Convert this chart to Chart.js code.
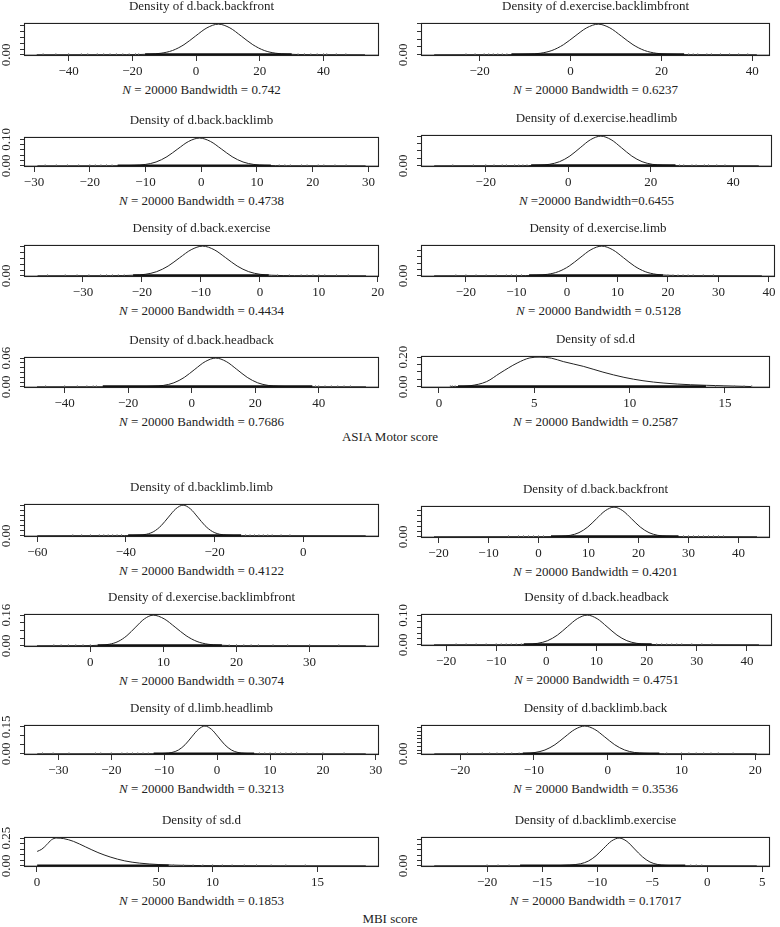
<!DOCTYPE html>
<html>
<head>
<meta charset="utf-8">
<script src="https://cdn.jsdelivr.net/npm/chart.js@4.4.1/dist/chart.umd.min.js"></script>
<style>
  body { margin: 0; background: #fff; }
  #page { position: relative; width: 780px; height: 927px; font-family: "Liberation Serif", serif; color: #222; }
  #page canvas { position: absolute; }
  .sub { position: absolute; text-align: center; font-size: 13px; line-height: 16px; white-space: nowrap; }
  .cap { position: absolute; left: 0; width: 780px; text-align: center; font-size: 13px; line-height: 16px; }
</style>
</head>
<body>
<div id="page">
  <div class="cap" style="top:429px">ASIA Motor score</div>
  <div class="cap" style="top:911px">MBI score</div>
</div>
<script>
// panel order: left/right, row by row
const titles = [
  'Density of d.back.backfront', 'Density of d.exercise.backlimbfront',
  'Density of d.back.backlimb', 'Density of d.exercise.headlimb',
  'Density of d.back.exercise', 'Density of d.exercise.limb',
  'Density of d.back.headback', 'Density of sd.d',
  'Density of d.backlimb.limb', 'Density of d.back.backfront',
  'Density of d.exercise.backlimbfront', 'Density of d.back.headback',
  'Density of d.limb.headlimb', 'Density of d.backlimb.back',
  'Density of sd.d', 'Density of d.backlimb.exercise'
];
const subtitles = [
  ' = 20000 Bandwidth = 0.742', ' = 20000 Bandwidth = 0.6237',
  ' = 20000 Bandwidth = 0.4738', ' =20000 Bandwidth=0.6455',
  ' = 20000 Bandwidth = 0.4434', ' = 20000 Bandwidth = 0.5128',
  ' = 20000 Bandwidth = 0.7686', ' = 20000 Bandwidth = 0.2587',
  ' = 20000 Bandwidth = 0.4122', ' = 20000 Bandwidth = 0.4201',
  ' = 20000 Bandwidth = 0.3074', ' = 20000 Bandwidth = 0.4751',
  ' = 20000 Bandwidth = 0.3213', ' = 20000 Bandwidth = 0.3536',
  ' = 20000 Bandwidth = 0.1853', ' = 20000 Bandwidth = 0.17017'
];

const xLimits = [
  [-54, 57.4], [-32.9, 43.9], [-31.8, 31.9], [-35.7, 49.4],
  [-40, 20.2], [-28.9, 41.2], [-52.8, 59], [-0.94, 17.36],
  [-63, 17.1], [-23.5, 46.3], [-9.08, 39.5], [-25, 45],
  [-36.5, 30.6], [-25.3, 22], [-5.3, 140.2], [-26, 5.7]
];
const xTicks = [
  [-40, -20, 0, 20, 40], [-20, 0, 20, 40], [-30, -20, -10, 0, 10, 20, 30], [-20, 0, 20, 40],
  [-30, -20, -10, 0, 10, 20], [-20, -10, 0, 10, 20, 30, 40], [-40, -20, 0, 20, 40], [0, 5, 10, 15],
  [-60, -40, -20, 0], [-20, -10, 0, 10, 20, 30, 40], [0, 10, 20, 30], [-20, -10, 0, 10, 20, 30, 40],
  [-30, -20, -10, 0, 10, 20, 30], [-20, -10, 0, 10, 20], [0, 50, 72, 115], [-20, -15, -10, -5, 0, 5]
];
// printed tick text where it differs from the value
const xTickText = [
  null, null, null, null, null, null, null, null,
  null, null, null, null, null, null, ['0', '50', '10', '15'], null
];

const yLimits = [
  [-0.0021, 0.0551], [-0.0031, 0.0811], [-0.0042, 0.1092], [-0.0032, 0.0832],
  [-0.0041, 0.1071], [-0.0037, 0.0967], [-0.0024, 0.0624], [-0.008, 0.208],
  [-0.0048, 0.1248], [-0.0046, 0.1186], [-0.0064, 0.1664], [-0.004, 0.105],
  [-0.0062, 0.1612], [-0.0059, 0.1539], [-0.01, 0.26], [-0.0104, 0.2704]
];
const yTicks = [
  [0, 0.01, 0.02, 0.03, 0.04, 0.05], [0, 0.02, 0.04, 0.06, 0.08],
  [0, 0.02, 0.04, 0.06, 0.08, 0.10], [0, 0.02, 0.04, 0.06, 0.08],
  [0, 0.02, 0.04, 0.06, 0.08, 0.10], [0, 0.02, 0.04, 0.06, 0.08],
  [0, 0.01, 0.02, 0.03, 0.04, 0.05, 0.06], [0, 0.05, 0.10, 0.15, 0.20],
  [0, 0.02, 0.04, 0.06, 0.08, 0.10, 0.12], [0, 0.02, 0.04, 0.06, 0.08, 0.10],
  [0, 0.04, 0.08, 0.12, 0.16], [0, 0.02, 0.04, 0.06, 0.08, 0.10],
  [0, 0.05, 0.10, 0.15], [0, 0.02, 0.04, 0.06, 0.08, 0.10, 0.12, 0.14],
  [0, 0.05, 0.10, 0.15, 0.20, 0.25], [0, 0.05, 0.10, 0.15, 0.20, 0.25]
];
const yLabels = [
  [0], [0], [0, 0.10], [0], [0], [0], [0, 0.06], [0, 0.20],
  [0], [0], [0, 0.16], [0, 0.10], [0, 0.15], [0], [0, 0.25], [0]
];

// density curves
const curveX = [
  [-50, -21.8, -14.6, -11, -7.4, -3.8, -0.2, 3.4, 7, 10.6, 14.2, 17.8, 21.4, 25, 28.6, 35.8, 53],
  [-30, -14.3, -9.2, -6.65, -4.1, -1.55, 1, 3.55, 6.1, 8.65, 11.2, 13.75, 16.3, 18.85, 21.4, 26.5, 41],
  [-29.4, -15.9, -12, -10.05, -8.1, -6.15, -4.2, -2.25, -0.3, 1.65, 3.6, 5.55, 7.5, 9.45, 11.4, 15.3, 29.5],
  [-32.5, -12.1, -7.1, -4.6, -2.1, 0.4, 2.9, 5.4, 7.9, 10.4, 12.9, 15.4, 17.9, 20.4, 22.9, 27.9, 46.2],
  [-37.7, -25.3, -21.4, -19.45, -17.5, -15.55, -13.6, -11.65, -9.7, -7.75, -5.8, -3.85, -1.9, 0.05, 2, 5.9, 18],
  [-26.3, -10.3, -6, -3.85, -1.7, 0.45, 2.6, 4.75, 6.9, 9.05, 11.2, 13.35, 15.5, 17.65, 19.8, 24.1, 38.6],
  [-48.7, -18.8, -12.2, -8.9, -5.6, -2.3, 1, 4.3, 7.6, 10.9, 14.2, 17.5, 20.8, 24.1, 27.4, 34, 54.9],
  [0.58, 1.0, 1.63, 2.5, 3.2, 4.1, 4.77, 5.3, 5.9, 6.52, 7.57, 8.6, 9.7, 10.7, 11.8, 13.2, 14.9, 16.36],
  [-60, -40.3, -37, -35.35, -33.7, -32.05, -30.4, -28.75, -27.1, -25.45, -23.8, -22.15, -20.5, -18.85, -17.2, -13.9, 14.1],
  [-20.9, 1.1, 4.6, 6.35, 8.1, 9.85, 11.6, 13.35, 15.1, 16.85, 18.6, 20.35, 22.1, 23.85, 25.6, 29.1, 43.7],
  [-7.3, -1, 1.4, 2.6, 3.8, 5, 6.2, 7.4, 8.6, 10.1, 11.6, 13.1, 14.6, 16.1, 17.6, 20.6, 37.7],
  [-22.4, -7.65, -3.7, -1.725, 0.25, 2.225, 4.2, 6.175, 8.15, 10.125, 12.1, 14.075, 16.05, 18.025, 20, 23.95, 42.4],
  [-34, -12.3, -9.8, -8.55, -7.3, -6.05, -4.8, -3.55, -2.3, -1.05, 0.2, 1.45, 2.7, 3.95, 5.2, 7.7, 28.1],
  [-23.5, -13.9, -11.2, -9.85, -8.5, -7.15, -5.8, -4.45, -3.1, -1.75, -0.4, 0.95, 2.3, 3.65, 5, 7.7, 20.2],
  [0.1, 2, 4, 6, 8, 11, 15, 20, 25, 30, 36, 42, 50, 60, 75, 100, 134.8],
  [-24.8, -14.5, -12.5, -11.5, -10.8, -10.1, -9.4, -8.7, -8.0, -7.3, -6.6, -5.9, -5.2, -4.5, -3.8, -2.3, 4.5]
];
const curveY = [
  [0, 0.0002, 0.0011, 0.0027, 0.0074, 0.0175, 0.0323, 0.0466, 0.053, 0.0466, 0.0323, 0.0175, 0.0074, 0.0027, 0.0011, 0.0002, 0],
  [0, 0.0003, 0.0016, 0.0039, 0.0109, 0.0257, 0.0476, 0.0686, 0.078, 0.0686, 0.0476, 0.0257, 0.0109, 0.0039, 0.0016, 0.0003, 0],
  [0, 0.0004, 0.0021, 0.0053, 0.0147, 0.0347, 0.0641, 0.0924, 0.105, 0.0924, 0.0641, 0.0347, 0.0147, 0.0053, 0.0021, 0.0004, 0],
  [0, 0.0003, 0.0016, 0.004, 0.0112, 0.0264, 0.0488, 0.0704, 0.08, 0.0704, 0.0488, 0.0264, 0.0112, 0.004, 0.0016, 0.0003, 0],
  [0, 0.0004, 0.0021, 0.0052, 0.0144, 0.034, 0.0628, 0.0906, 0.103, 0.0906, 0.0628, 0.034, 0.0144, 0.0052, 0.0021, 0.0004, 0],
  [0, 0.0004, 0.0019, 0.0047, 0.013, 0.0307, 0.0567, 0.0818, 0.093, 0.0818, 0.0567, 0.0307, 0.013, 0.0047, 0.0019, 0.0004, 0],
  [0, 0.0002, 0.0012, 0.003, 0.0084, 0.0198, 0.0366, 0.0528, 0.06, 0.0528, 0.0366, 0.0198, 0.0084, 0.003, 0.0012, 0.0002, 0],
  [0.001, 0.002, 0.007, 0.035, 0.092, 0.16, 0.195, 0.2, 0.193, 0.17, 0.138, 0.099, 0.064, 0.041, 0.025, 0.014, 0.007, 0.002],
  [0, 0.0005, 0.0024, 0.006, 0.0168, 0.0396, 0.0732, 0.1056, 0.12, 0.1056, 0.0732, 0.0396, 0.0168, 0.006, 0.0024, 0.0005, 0],
  [0, 0.0005, 0.0023, 0.0057, 0.016, 0.0376, 0.0695, 0.1003, 0.114, 0.1003, 0.0695, 0.0376, 0.016, 0.0057, 0.0023, 0.0005, 0],
  [0, 0.0006, 0.0032, 0.008, 0.0224, 0.0528, 0.0976, 0.1408, 0.16, 0.1408, 0.0976, 0.0528, 0.0224, 0.008, 0.0032, 0.0006, 0],
  [0, 0.0004, 0.002, 0.0051, 0.0141, 0.0333, 0.0616, 0.0889, 0.101, 0.0889, 0.0616, 0.0333, 0.0141, 0.0051, 0.002, 0.0004, 0],
  [0, 0.0006, 0.0031, 0.0078, 0.0217, 0.0512, 0.0946, 0.1364, 0.155, 0.1364, 0.0946, 0.0512, 0.0217, 0.0078, 0.0031, 0.0006, 0],
  [0, 0.0006, 0.003, 0.0074, 0.0207, 0.0488, 0.0903, 0.1302, 0.148, 0.1302, 0.0903, 0.0488, 0.0207, 0.0074, 0.003, 0.0006, 0],
  [0.13, 0.15, 0.19, 0.235, 0.25, 0.245, 0.22, 0.17, 0.12, 0.08, 0.045, 0.025, 0.012, 0.005, 0.002, 0.0005, 0],
  [0, 0.001, 0.008, 0.02, 0.045, 0.095, 0.165, 0.232, 0.26, 0.229, 0.158, 0.086, 0.036, 0.013, 0.005, 0.001, 0]
];

// rug: dense stretch drawn solid, sparse tail marks listed
const rugCore = [
  [-16, 30], [-13, 25], [-15, 12.5], [-9, 26], [-21.5, 1.5], [-7.5, 19], [-28, 38], [1.0, 14],
  [-39.5, -14], [2.5, 28], [1, 18], [-4.5, 21], [-12, 7], [-11.5, 7], [0.1, 54], [-17, -2]
];
const rugTail = [
  [-48, -44, -40, -36, -34, -31, -29, -27, -25, -23, -21, -19, -18, 32, 34, 36, 38, 40, 41, 44, 47],
  [-23, -21, -19, -18, -17, -16, -15, -14, 26, 27, 28, 30, 31, 33, 35, 37, 39],
  [-28, -26, -24, -22, -20, -19, -18, -17, -16, 14, 15, 16, 18, 19, 21, 22, 24, 26],
  [-28, -23, -20, -18, -16, -15, -13, -12, -11, -10, 27, 28, 30, 31, 33, 34, 36, 38],
  [-36, -33, -31, -29, -27, -26, -25, -24, -23, 3, 5, 7, 8, 9, 10, 11, 13, 15],
  [-22, -20, -18, -16, -14, -12, -11, -10, -9, 20, 21, 22, 23, 24, 25, 27, 29],
  [-46, -40, -36, -33, -31, -30, 39, 40, 42, 44, 46, 48, 50],
  [0.6, 0.7, 0.85, 14.5, 15, 15.5, 16, 16.4],
  [-52, -50, -48, -46, -45, -44, -43, -42, -41, -13, -12, -11, -10, -9, -8, -7, -5, -3],
  [-6, -4, -3, -2, -1, 0, 1, 29, 30, 31, 32, 33, 34, 35, 36, 37],
  [-5, -4, -3, -2, -1, 0, 19, 20, 21, 22, 23, 25, 27, 30, 34],
  [-18, -16, -14, -12, -10, -9, -8, -7, -6, -5, 22, 23, 24, 25, 26, 27, 29, 31, 33],
  [-33, -31, -28, -23, -22, -20, -18, -17, -16, -15, -14, -13, 8, 9, 10, 11, 12, 13, 14, 15, 17, 20, 24],
  [-19, -17, -16, -15, -14, -13, -12, 8, 10, 11, 12, 13, 14, 15, 17],
  [56, 60, 64, 68, 72, 76, 80, 85, 90, 96, 102, 110],
  [-20, -19, -18, -1.5, -1, -0.5]
];

// plot boxes on the page: left, top, right, bottom
const boxes = [
  [24, 23, 379, 56], [421, 23, 770, 56],
  [24, 137, 379, 167], [421, 135, 772, 167],
  [24, 245, 379, 277], [421, 245, 776, 277],
  [24, 357, 379, 388], [421, 356, 770, 388],
  [24, 504, 379, 537], [421, 506, 770, 538],
  [24, 614, 379, 647], [421, 614, 772, 646],
  [24, 725, 379, 755], [421, 725, 770, 755],
  [24, 837, 379, 867], [421, 837, 770, 867]
];

const FONT = { family: 'Liberation Serif', size: 13, lineHeight: 1.2 };
const INK = '#222';
Chart.defaults.font.family = 'Liberation Serif';
Chart.defaults.color = INK;

const framePlugin = {
  id: 'frame',
  afterDatasetsDraw(chart) {
    const a = chart.chartArea;
    const g = chart.ctx;
    g.save();
    g.strokeStyle = INK;
    g.lineWidth = 1.1;
    g.strokeRect(a.left + 0.5, a.top + 0.5, a.right - a.left - 1, a.bottom - a.top - 1);
    g.restore();
  }
};

const fmtX = v => (v < 0 ? '\u2212' + Math.abs(v) : String(v));

const page = document.getElementById('page');

titles.forEach((title, i) => {
  const [bl, bt, br, bb] = boxes[i];
  const colX = bl < 390 ? 0 : 390;
  const topPad = 26, bottomPad = 24;

  const canvas = document.createElement('canvas');
  canvas.width = 390;
  canvas.height = topPad + (bb - bt) + bottomPad;
  canvas.style.left = colX + 'px';
  canvas.style.top = (bt - topPad) + 'px';
  canvas.style.width = '390px';
  canvas.style.height = canvas.height + 'px';
  page.appendChild(canvas);

  const sub = document.createElement('div');
  sub.className = 'sub';
  sub.style.left = bl + 'px';
  sub.style.width = (br - bl) + 'px';
  sub.style.top = (bb + 26) + 'px';
  sub.innerHTML = '<i>N</i>' + subtitles[i];
  page.appendChild(sub);

  const curve = curveX[i].map((x, k) => ({ x: x, y: curveY[i][k] }));
  const core = rugCore[i].map(x => ({ x: x, y: 0 }));
  const tails = rugTail[i].map(x => ({ x: x, y: 0 }));

  new Chart(canvas.getContext('2d'), {
    type: 'line',
    data: {
      datasets: [
        {
          data: tails, showLine: false, pointStyle: 'line', rotation: 90,
          pointRadius: 1.5, pointBorderColor: '#777', pointBorderWidth: 1
        },
        {
          data: core, borderColor: '#111', borderWidth: 3, pointRadius: 0
        },
        {
          data: curve, borderColor: INK, borderWidth: 1, pointRadius: 0,
          cubicInterpolationMode: 'monotone'
        }
      ]
    },
    options: {
      responsive: false,
      animation: false,
      devicePixelRatio: 1,
      layout: { padding: { left: 0, top: 0, bottom: 0, right: 390 - (br - colX) } },
      plugins: {
        legend: { display: false },
        tooltip: { enabled: false },
        title: {
          display: true, text: title, fullSize: false, color: INK,
          font: { family: FONT.family, size: FONT.size, lineHeight: 1.15, weight: 'normal' },
          padding: { top: 2.5, bottom: 8.5 }
        }
      },
      scales: {
        x: {
          type: 'linear', min: xLimits[i][0], max: xLimits[i][1],
          afterBuildTicks: s => { s.ticks = xTicks[i].map(v => ({ value: v })); },
          ticks: {
            autoSkip: false, minRotation: 0, maxRotation: 0, padding: 3, color: INK, font: FONT,
            callback: (v, k) => (xTickText[i] ? xTickText[i][k] : fmtX(v))
          },
          grid: { drawOnChartArea: false, drawTicks: true, tickLength: 5, color: '#333' },
          border: { display: false },
          afterFit: s => { s.height = bottomPad; s.paddingLeft = 0; s.paddingRight = 0; }
        },
        y: {
          type: 'linear', min: yLimits[i][0], max: yLimits[i][1],
          afterBuildTicks: s => { s.ticks = yTicks[i].map(v => ({ value: v })); },
          ticks: {
            autoSkip: false, minRotation: 90, maxRotation: 90, crossAlign: 'center', padding: 2.5,
            color: INK, font: FONT,
            callback: v => (yLabels[i].includes(v) ? v.toFixed(2) : '')
          },
          grid: {
            drawTicks: true, tickLength: 4, tickColor: '#333', lineWidth: 1,
            color: ctx => (ctx.tick && ctx.tick.value === 0 ? '#b8b8b8' : 'rgba(0,0,0,0)')
          },
          border: { display: false },
          afterFit: s => { s.width = bl - colX; s.paddingTop = 0; s.paddingBottom = 0; }
        }
      }
    },
    plugins: [framePlugin]
  });
});
</script>
</body>
</html>
